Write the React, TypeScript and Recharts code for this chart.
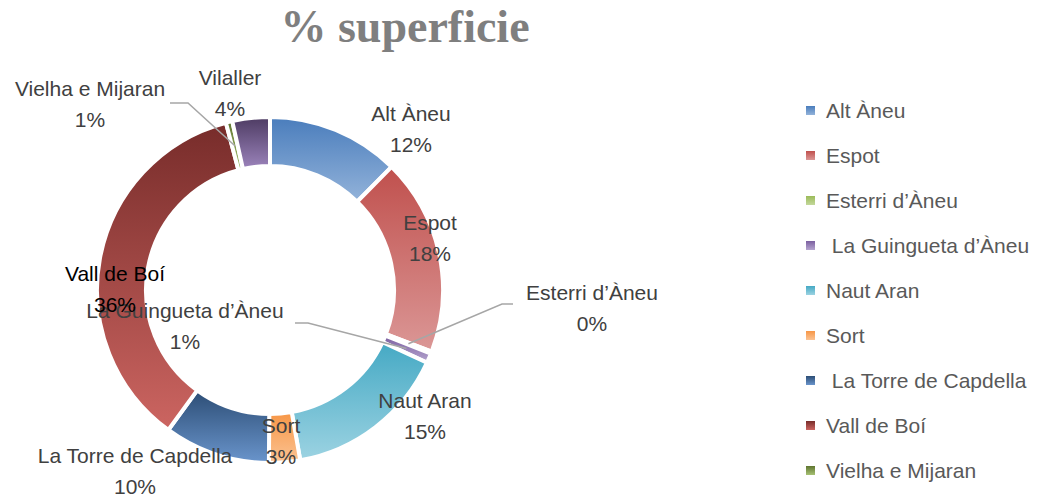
import { PieChart, Pie, Cell, Legend } from "recharts"

const categories = [
  "Alt Àneu",
  "Espot",
  "Esterri d’Àneu",
  " La Guingueta d’Àneu",
  "Naut Aran",
  "Sort",
  " La Torre de Capdella",
  "Vall de Boí",
  "Vielha e Mijaran",
  "Vilaller",
]
const superficie = [12.4, 18.4, 0.2, 0.9, 15.3, 2.9, 9.9, 35.9, 0.6, 3.5]
// the legend in the source stops before the last category
const legendCount = 9

const topColors = ["#4a7dbc", "#c0504d", "#9bbb59", "#7b5fa0", "#45a9c4", "#f79646", "#2c4d75", "#772c2a", "#5f7530", "#4d3b62"]
const bottomColors = ["#93b3da", "#db9796", "#c4d89c", "#b5a5cf", "#9cd3e2", "#fbc393", "#6a95cc", "#cc6561", "#a7c274", "#9c84bc"]

// label placement relative to the pie centre (name line), with optional leader elbow
const labelLayout = [
  { dx: 141, dy: -177 },
  { dx: 160, dy: -68 },
  { dx: 322, dy: 2, lead: [243, 14, 232, 14] },
  { dx: -85, dy: 20, lead: [25, 33, 38, 33] },
  { dx: 155, dy: 110 },
  { dx: 11, dy: 135 },
  { dx: -135, dy: 165 },
  { dx: -155, dy: -17, dark: true },
  { dx: -180, dy: -202, lead: [-100, -187, -82, -187] },
  { dx: -40, dy: -213 },
]

const data = categories.map((name, i) => ({ name, value: superficie[i] }))

const RAD = Math.PI / 180
const font = "'Liberation Sans', Arial, sans-serif"

function renderLabel(props: any) {
  const { cx, cy, midAngle, innerRadius, outerRadius, index, percent, name } = props
  const l = labelLayout[index]
  const x = cx + l.dx
  const y = cy + l.dy
  const fill = l.dark ? "#000" : "#404040"
  let line = null
  if (l.lead) {
    const r = (innerRadius + outerRadius) / 2
    const px = cx + r * Math.cos(-midAngle * RAD)
    const py = cy + r * Math.sin(-midAngle * RAD)
    line = (
      <polyline
        points={`${cx + l.lead[0]},${cy + l.lead[1]} ${cx + l.lead[2]},${cy + l.lead[3]} ${px},${py}`}
        fill="none"
        stroke="#a6a6a6"
        strokeWidth={1.5}
      />
    )
  }
  return (
    <g>
      {line}
      <text x={x} y={y} textAnchor="middle" dominantBaseline="central" fill={fill} fontSize={21} fontFamily={font}>
        {String(name).trim()}
      </text>
      <text x={x} y={y + 31} textAnchor="middle" dominantBaseline="central" fill={fill} fontSize={21} fontFamily={font}>
        {Math.round(percent * 100)}%
      </text>
    </g>
  )
}

function LegendList() {
  return (
    <div style={{ fontFamily: font, fontSize: 21, color: "#595959" }}>
      {categories.slice(0, legendCount).map((name, i) => (
        <div key={i} style={{ display: "flex", alignItems: "center", height: 45, whiteSpace: "pre" }}>
          <span
            style={{
              display: "inline-block",
              width: 9,
              height: 9,
              marginRight: 11,
              background: `linear-gradient(${topColors[i]}, ${bottomColors[i]})`,
            }}
          />
          {name}
        </div>
      ))}
    </div>
  )
}

export default function App() {
  return (
    <div style={{ position: "absolute", left: 0, top: 0, width: 1037, height: 494, background: "#fff" }}>
      <div
        style={{
          position: "absolute",
          left: 0,
          width: 810,
          top: 0,
          textAlign: "center",
          fontFamily: "'Liberation Serif', serif",
          fontWeight: "bold",
          fontSize: 46,
          color: "#7f7f7f",
        }}
      >
        % superficie
      </div>
      <PieChart width={1037} height={494}>
        <defs>
          {topColors.map((c, i) => (
            <linearGradient key={i} id={`g${i}`} x1="0" y1="0" x2="0" y2="1">
              <stop offset="0%" stopColor={c} />
              <stop offset="100%" stopColor={bottomColors[i]} />
            </linearGradient>
          ))}
        </defs>
        <Pie
          data={data}
          dataKey="value"
          nameKey="name"
          cx={265}
          cy={285}
          innerRadius={124}
          outerRadius={173}
          startAngle={90}
          endAngle={-270}
          stroke="#fff"
          strokeWidth={4}
          label={renderLabel}
          labelLine={false}
          isAnimationActive={false}
        >
          {data.map((_, i) => (
            <Cell key={i} fill={`url(#g${i})`} />
          ))}
        </Pie>
        <Legend
          layout="vertical"
          align="right"
          verticalAlign="top"
          content={<LegendList />}
          wrapperStyle={{ left: 806, top: 88, width: 231 }}
        />
      </PieChart>
    </div>
  )
}
